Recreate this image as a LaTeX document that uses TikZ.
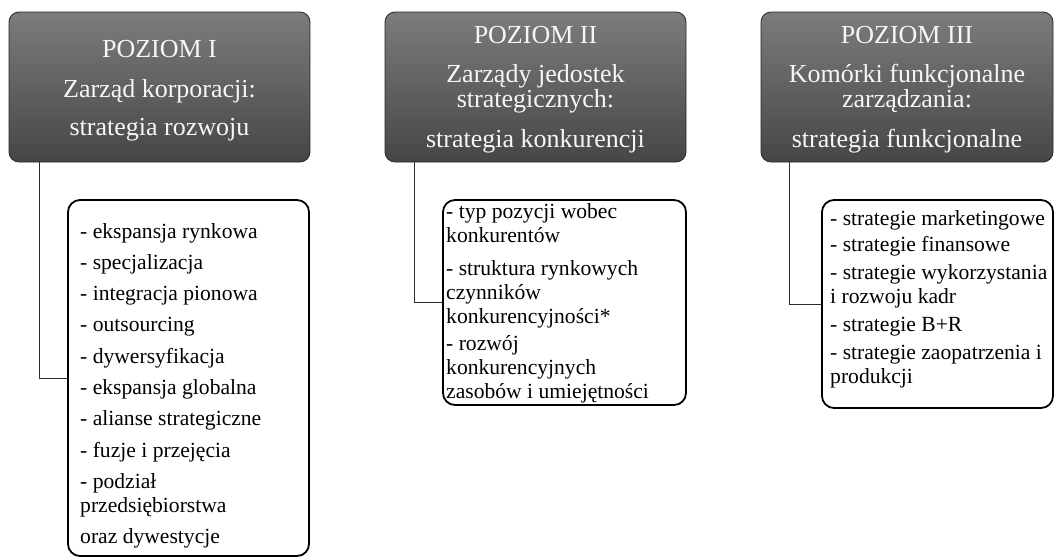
\documentclass[tikz,border=0pt]{standalone}
\usepackage{fontspec}
\setmainfont{Liberation Serif}
\definecolor{hdrtop}{RGB}{124,124,124}
\definecolor{hdrbot}{RGB}{70,70,70}
\definecolor{hdrtext}{RGB}{246,246,246}
\definecolor{linkgray}{RGB}{45,45,45}
% one centred line of a header, one line of a list
\newcommand\hdrline[1]{\hbox to 0pt{\hss#1\hss}}
\newcommand\itemline[1]{\hbox{#1}}
\begin{document}
\begin{tikzpicture}[x=1pt,y=-1pt,
  header/.style={draw=black!85, line width=0.8pt, rounded corners=10pt,
    top color=hdrtop, bottom color=hdrbot, inner sep=0pt, minimum height=150pt},
  hdrtext/.style={text=hdrtext, inner sep=0pt, anchor=base,
    font=\fontsize{26}{25}\selectfont},
  listbox/.style={draw=black, line width=1.8pt, rounded corners=12pt, inner sep=0pt},
  listtext/.style={inner sep=0pt, anchor=base west,
    font=\fontsize{21.6}{24}\selectfont},
  link/.style={draw=linkgray, line width=1pt}]
\useasboundingbox (0,0) rectangle (1055,558);

% level headers
\node[header, minimum width=301pt] (h1) at (159.5,87) {};
\node[header, minimum width=301pt] (h2) at (535.5,87) {};
\node[header, minimum width=292pt] (h3) at (907,87) {};

\node[hdrtext] (h1t) at (159.5,57) {\vtop{%
  \hdrline{POZIOM I}\vskip15pt
  \hdrline{Zarząd korporacji:}\vskip13pt
  \hdrline{strategia rozwoju}}};
\node[hdrtext] (h2t) at (535.5,43) {\vtop{%
  \hdrline{POZIOM II}\vskip14pt
  \hdrline{Zarządy jedostek}
  \hdrline{strategicznych:}\vskip15pt
  \hdrline{strategia konkurencji}}};
\node[hdrtext] (h3t) at (907,43) {\vtop{%
  \hdrline{POZIOM III}\vskip14pt
  \hdrline{Komórki funkcjonalne}
  \hdrline{zarządzania:}\vskip15pt
  \hdrline{strategia funkcjonalne}}};

% strategy lists
\node[listbox, minimum width=241pt, minimum height=356pt] (l1) at (188.5,378) {};
\node[listbox, minimum width=243pt, minimum height=205pt] (l2) at (564.5,302.5) {};
\node[listbox, minimum width=231pt, minimum height=208pt] (l3) at (937.5,304) {};

\node[listtext] (l1t) at (80,238) {\vtop{%
  \itemline{- ekspansja rynkowa}\vskip7.3pt
  \itemline{- specjalizacja}\vskip7.3pt
  \itemline{- integracja pionowa}\vskip7.3pt
  \itemline{- outsourcing}\vskip7.3pt
  \itemline{- dywersyfikacja}\vskip7.3pt
  \itemline{- ekspansja globalna}\vskip7.3pt
  \itemline{- alianse strategiczne}\vskip7.3pt
  \itemline{- fuzje i przejęcia}\vskip7.3pt
  \itemline{- podział}
  \itemline{przedsiębiorstwa}\vskip7.3pt
  \itemline{oraz dywestycje}}};
\node[listtext] (l2t) at (446,218) {\vtop{%
  \itemline{- typ pozycji wobec}
  \itemline{konkurentów}\vskip9pt
  \itemline{- struktura rynkowych}
  \itemline{czynników}
  \itemline{konkurencyjności*}\vskip3pt
  \itemline{- rozwój}
  \itemline{konkurencyjnych}
  \itemline{zasobów i umiejętności}}};
\node[listtext] (l3t) at (830,225) {\vtop{%
  \itemline{- strategie marketingowe}\vskip2pt
  \itemline{- strategie finansowe}\vskip4pt
  \itemline{- strategie wykorzystania}
  \itemline{i rozwoju kadr}\vskip4pt
  \itemline{- strategie B+R}\vskip4pt
  \itemline{- strategie zaopatrzenia i}
  \itemline{produkcji}}};

% connectors from each header down to its list
\coordinate (c1) at ([xshift=31pt]h1.south west);
\coordinate (c2) at ([xshift=30pt]h2.south west);
\coordinate (c3) at ([xshift=29pt]h3.south west);
\draw[link] (c1) |- (l1.west);
\draw[link] (c2) |- (l2.west);
\draw[link] (c3) |- (l3.west);
\end{tikzpicture}
\end{document}
